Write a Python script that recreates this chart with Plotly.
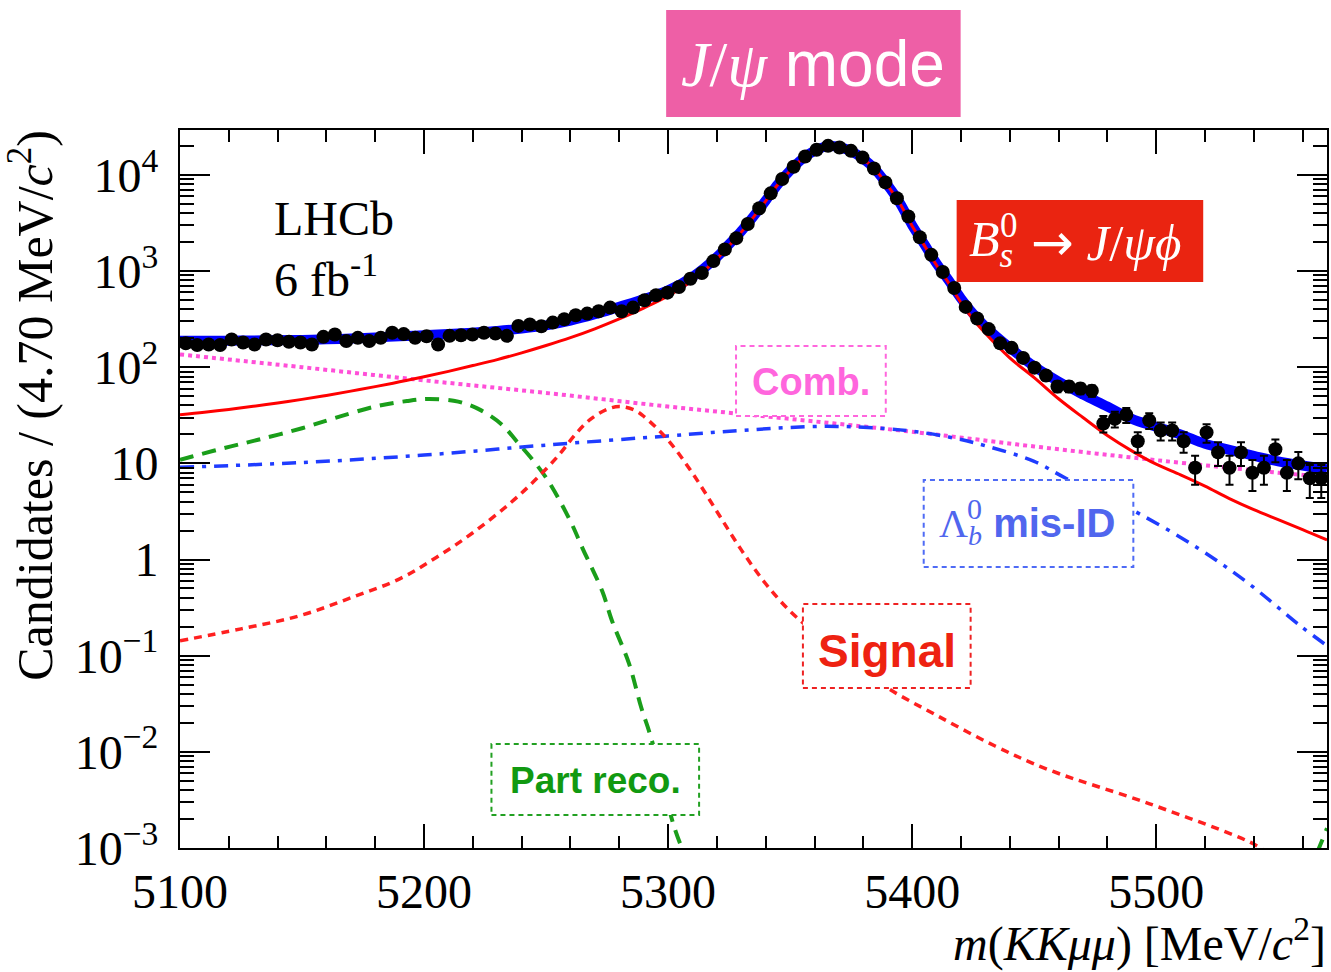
import numpy as np
import plotly.graph_objects as go

# ---------------- binned data: candidates per 4.70 MeV/c^2, 5100-5570 ----------------
BIN_LO = 5100.0
BIN_W = 4.70
counts = [177, 170, 172, 170, 194, 181, 172, 194, 191, 184,
          181, 172, 207, 219, 187, 202, 187, 202, 228, 221,
          202, 210, 172, 212, 215, 219, 228, 224, 212, 269,
          278, 267, 291, 315, 347, 361, 382, 417, 382, 417,
          497, 560, 596, 682, 832, 953, 1270, 1680, 2200, 3090,
          4500, 6430, 9060, 12170, 15560, 18250, 20050, 19280, 17800, 15170,
          11670, 8360, 5710, 3690, 2250, 1475, 977, 667, 424, 321,
          249, 177, 159, 125, 99, 82, 63, 63, 60, 57,
          26, 29, 32, 17, 28, 22, 22, 17, 9, 21,
          13, 9, 13, 8, 9, 14, 8, 10, 7, 7]
bin_centres = [BIN_LO + BIN_W * (i + 0.5) for i in range(len(counts))]
count_errors = [float(np.sqrt(c)) for c in counts]

# ---------------- fit model, sampled along the mass axis ----------------
mass_fit = [5100, 5110, 5120, 5130, 5140, 5150, 5160, 5170, 5180, 5190, 5200,
            5210, 5220, 5230, 5240, 5250, 5260, 5270, 5280, 5290, 5300, 5310,
            5320, 5325, 5330, 5335, 5340, 5345, 5350, 5355, 5360, 5365, 5370,
            5375, 5380, 5385, 5390, 5395, 5400, 5405, 5410, 5415, 5420, 5425,
            5430, 5440, 5450, 5460, 5470, 5480, 5490, 5500, 5510, 5520, 5530,
            5540, 5550, 5560, 5570]
total_fit = [188, 188, 189, 190, 191, 192, 195, 199, 204, 210, 215,
             222, 229, 238, 252, 272, 305, 355, 425, 510, 630, 870,
             1400, 1900, 2600, 3700, 5400, 8000, 11100, 14700, 17800, 19800, 19500,
             17600, 14700, 11300, 7800, 5100, 3000, 1900, 1200, 800, 520, 360,
             265, 160, 102, 71, 52, 39, 29, 24, 20, 16, 13.8,
             12, 10.5, 9.5, 8.7]
bs_fit = [32, 34, 36.4, 39.2, 42.5, 46.3, 50.9, 56.4, 62.8, 70.5, 79.6,
          90.6, 104, 120, 141, 168, 203, 251, 318, 412, 550, 800,
          1340, 1840, 2540, 3640, 5340, 7940, 11040, 14640, 17740, 19740, 19440,
          17540, 14640, 11240, 7740, 5040, 2950, 1850, 1150, 750, 470, 315,
          225, 125, 78, 47, 30, 19.5, 13.5, 9.8, 7.6, 5.8, 4.3,
          3.3, 2.6, 2.05, 1.6]

mass_comb = [5100, 5150, 5200, 5250, 5300, 5350, 5400, 5450, 5500, 5550, 5570]
comb_fit = [136, 100, 73, 54, 39, 29, 21.3, 15, 10.8, 8.0, 7.2]

mass_lb = [5100, 5150, 5200, 5250, 5300, 5330, 5365, 5395, 5415, 5431, 5450,
           5463, 5480, 5493, 5517, 5538, 5559, 5570]
lb_fit = [9.1, 10.2, 12.2, 15.5, 19.3, 22, 24.3, 22.3, 18.8, 15, 10.5,
          7.0, 4.4, 3.0, 1.32, 0.56, 0.205, 0.127]

mass_sig = [5100, 5125, 5149, 5170, 5190, 5205, 5220, 5235, 5245, 5255, 5262,
            5268, 5275, 5280, 5286, 5290, 5300, 5310, 5320, 5330, 5340, 5350,
            5360, 5375, 5390, 5410, 5434, 5456, 5497, 5540, 5545]
sig_fit = [0.143, 0.19, 0.26, 0.4, 0.63, 1.05, 1.9, 3.8, 6.5, 12, 20,
           28.5, 36.5, 39, 36, 30.9, 17.4, 7.9, 3.16, 1.26, 0.56, 0.29,
           0.174, 0.087, 0.046, 0.024, 0.0115, 0.0065, 0.0029, 0.0011, 0.0009]

mass_part = [5100, 5105, 5118, 5132, 5150, 5163, 5180, 5193, 5202, 5214, 5223,
             5232, 5238, 5245, 5251, 5260, 5265, 5273, 5277, 5284, 5289, 5293,
             5302, 5305, None, 5566, 5570]
part_fit = [10.9, 11.8, 14.4, 17.6, 23.2, 29.4, 39, 44.5, 46.7, 43.9, 36,
            25.2, 16.9, 10.5, 6.5, 2.5, 1.3, 0.47, 0.231, 0.0826, 0.0289, 0.0141,
            0.00182, 0.0011, None, 0.0009, 0.0016]

x_ticks = [5100, 5200, 5300, 5400, 5500]
y_ticks = [1e-3, 1e-2, 1e-1, 1, 10, 1e2, 1e3, 1e4]
y_ticktext = ["10<sup>−3</sup>", "10<sup>−2</sup>", "10<sup>−1</sup>", "1", "10",
              "10<sup>2</sup>", "10<sup>3</sup>", "10<sup>4</sup>"]

# ---------------- page geometry (pixels) ----------------
W, H = 1331, 972
L, R, T, B = 180, 2, 130, 124
PW, PH = W - L - R, H - T - B

def px(x):
    return (x - L) / PW

def py(y):
    return (H - B - y) / PH

SERIF = "Liberation Serif, Times New Roman, serif"
SANS = "Liberation Sans, Arial, sans-serif"

fig = go.Figure()

fig.add_trace(go.Scatter(x=mass_comb, y=comb_fit, mode="lines", line_shape="spline",
                         line=dict(color="#FF4FD8", width=4, dash="dot"), name="Comb."))
fig.add_trace(go.Scatter(x=mass_part, y=part_fit, mode="lines", line_shape="spline",
                         line=dict(color="#1A9E1A", width=4, dash="14px,9px"), name="Part reco."))
fig.add_trace(go.Scatter(x=mass_lb, y=lb_fit, mode="lines", line_shape="spline",
                         line=dict(color="#1F3CFF", width=3.5, dash="14px,8px,4px,8px"),
                         name="Lambda_b mis-ID"))
fig.add_trace(go.Scatter(x=mass_sig, y=sig_fit, mode="lines", line_shape="spline",
                         line=dict(color="#FF2020", width=3.5, dash="8px,6px"), name="Signal"))
fig.add_trace(go.Scatter(x=mass_fit, y=total_fit, mode="lines", line_shape="spline",
                         line=dict(color="#0000FF", width=10), name="Total"))
fig.add_trace(go.Scatter(x=mass_fit, y=bs_fit, mode="lines", line_shape="spline",
                         line=dict(color="#FF0000", width=3), name="Bs -> J/psi phi"))
fig.add_trace(go.Scatter(x=bin_centres, y=counts, mode="markers",
                         marker=dict(color="black", size=14, symbol="circle"),
                         error_y=dict(type="data", array=count_errors, color="black",
                                      thickness=2, width=4),
                         name="Data"))

# label boxes: (x0, y0, x1, y1, line colour, fill colour, dashed)
boxes = [
    (667, 10, 962, 117, None, "#EE5FA6", False),
    (958, 200, 1205, 282, None, "#EA2411", False),
    (737, 346, 887, 416, "#FF66DD", "white", True),
    (925, 480, 1135, 567, "#4F6BF5", "white", True),
    (804, 604, 972, 688, "#EE2222", "white", True),
    (492, 744, 700, 815, "#22A022", "white", True),
]
shapes = []
for x0, y0, x1, y1, lc, fc, dashed in boxes:
    shapes.append(dict(type="rect", xref="paper", yref="paper",
                       x0=px(x0), x1=px(x1), y0=py(y1), y1=py(y0),
                       fillcolor=fc, layer="above",
                       line=dict(color=lc if lc else fc, width=2 if dashed else 0,
                                 dash="5px,4px" if dashed else "solid")))

def label(x, y, text, size, color, family, xanchor="center", **kw):
    return dict(x=px(x), y=py(y), xref="paper", yref="paper", text=text,
                showarrow=False, xanchor=xanchor, yanchor="middle",
                font=dict(size=size, color=color, family=family), **kw)

ARROW = "<span style='font-family:DejaVu Sans'>→</span>"

annotations = [
    label(814, 64, "<span style='font-family:Liberation Serif'><i>J</i>/<i>ψ</i></span> mode",
          64, "white", SANS),
    # B_s^0 -> J/psi phi (superscript 0 stacked above the subscript)
    label(968, 243, "<i>B</i><sub><i>s</i></sub>", 50, "white", SERIF, xanchor="left"),
    label(999, 225, "0", 35, "white", SERIF, xanchor="left"),
    label(1030, 243, ARROW + " <i>J</i>/<i>ψϕ</i>", 51, "white", SERIF, xanchor="left"),
    label(812, 382, "<b>Comb.</b>", 38, "#FF66DD", SANS),
    # Lambda_b^0 mis-ID
    label(938, 526, "<span style='font-family:Liberation Serif'>Λ<sub><i>b</i></sub></span> <b>mis-ID</b>",
          40, "#5066EE", SANS, xanchor="left"),
    label(966, 508, "0", 30, "#5066EE", SERIF, xanchor="left"),
    label(888, 651, "<b>Signal</b>", 46, "#EE2211", SANS),
    label(596, 780, "<b>Part reco.</b>", 37, "#119911", SANS),
    label(272, 218, "LHCb", 48, "black", SERIF, xanchor="left"),
    label(272, 276, "6 fb<sup>-1</sup>", 48, "black", SERIF, xanchor="left"),
    label(1330, 940, "<i>m</i>(<i>KKμμ</i>) [MeV/<i>c</i><sup>2</sup>]", 48, "black", SERIF,
          xanchor="right"),
    dict(x=px(31), y=py(128), xref="paper", yref="paper",
         text="Candidates / (4.70 MeV/<i>c</i><sup>2</sup>)", showarrow=False,
         textangle=-90, xanchor="center", yanchor="top",
         font=dict(size=50, color="black", family=SERIF)),
]

fig.update_layout(
    width=W, height=H,
    margin=dict(l=L, r=R, t=T, b=B, pad=0),
    paper_bgcolor="white", plot_bgcolor="white",
    showlegend=False,
    shapes=shapes,
    annotations=annotations,
    xaxis=dict(range=[5100, 5570], tickvals=x_ticks, ticks="inside", ticklen=24,
               tickwidth=2, tickcolor="black", showline=True, linecolor="black",
               linewidth=2, mirror="allticks", showgrid=False, zeroline=False,
               ticklabelstandoff=0,
               tickfont=dict(family=SERIF, size=48, color="black"),
               minor=dict(dtick=20, ticks="inside", ticklen=12, tickwidth=2,
                          tickcolor="black", showgrid=False)),
    yaxis=dict(type="log", range=[-3, 4.467], tickvals=y_ticks, ticktext=y_ticktext,
               ticks="inside", ticklen=30, tickwidth=2, tickcolor="black",
               showline=True, linecolor="black", linewidth=2, mirror="allticks",
               showgrid=False, zeroline=False, ticklabelstandoff=10,
               tickfont=dict(family=SERIF, size=48, color="black"),
               minor=dict(dtick="D1", ticks="inside", ticklen=14, tickwidth=2,
                          tickcolor="black", showgrid=False)),
)

fig.write_html("out.html")
